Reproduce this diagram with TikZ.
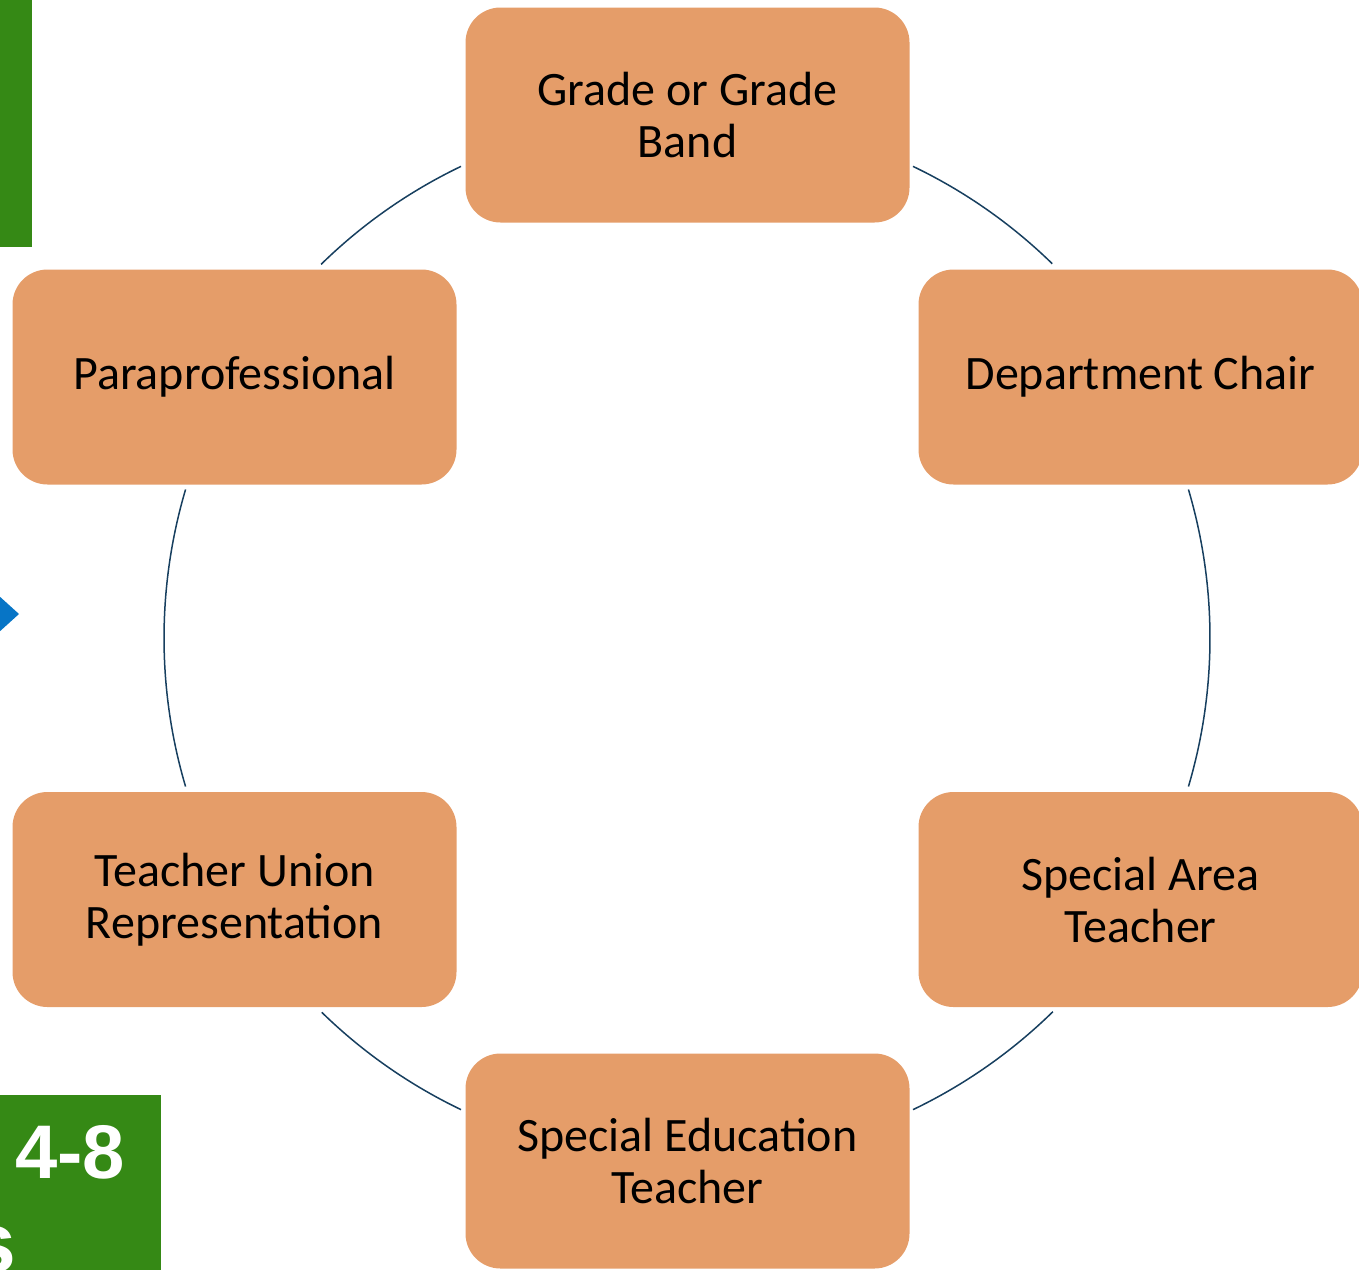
\documentclass[tikz,border=0pt]{standalone}
\usepackage{fontspec}
\setmainfont{Carlito}
\newfontfamily\headfont{Liberation Sans}
\begin{document}
\begin{tikzpicture}[x=1pt,y=1pt,
  role/.style={draw=none, fill=roleorange, rounded corners=35pt,
    minimum width=444pt, minimum height=215pt, inner sep=0pt,
    align=center, text width=430pt,
    font=\fontsize{48}{52}\selectfont,
    execute at begin node={\spaceskip=0.226em\relax}},
  ring/.style={draw=ringblue, line width=1.5pt}]
\definecolor{roleorange}{HTML}{E59D69}
\definecolor{ringblue}{HTML}{173F5F}
\definecolor{bargreen}{HTML}{358915}
\definecolor{markblue}{HTML}{0775C6}
\useasboundingbox (0,0) rectangle (1359,-1269);
\clip (0,0) rectangle (1359,-1269);

% side decorations
\fill[bargreen] (0,0) rectangle (32,-247);
\fill[markblue] (-2,-595) -- (19,-614) -- (-2,-633) -- cycle;
\fill[bargreen] (0,-1095) rectangle (161,-1275);
\node[anchor=base west, inner sep=0pt, text=white,
  font=\headfont\bfseries\fontsize{76}{80}\selectfont] (grades) at (15,-1178) {4-8};
\node[anchor=base east, inner sep=0pt, text=white,
  font=\headfont\bfseries\fontsize{86}{90}\selectfont] (tail) at (17,-1272) {s};

% ring centre
\coordinate (ctr) at (687,-638);

% connecting ring segments
\draw[ring] (ctr) ++(115.6:523) arc[start angle=115.6, end angle=134.4, radius=523];
\draw[ring] (ctr) ++(163.5:523) arc[start angle=163.5, end angle=196.5, radius=523];
\draw[ring] (ctr) ++(225.7:523) arc[start angle=225.7, end angle=244.4, radius=523];
\draw[ring] (ctr) ++(295.6:523) arc[start angle=295.6, end angle=314.4, radius=523];
\draw[ring] (ctr) ++(-16.5:523) arc[start angle=-16.5, end angle=16.5, radius=523];
\draw[ring] (ctr) ++(45.7:523) arc[start angle=45.7, end angle=64.4, radius=523];

% role boxes
\node[role] (grade) at (687.5,-115) {Grade or Grade\\Band};
\node[role] (dept) at (1140.5,-377) {Department Chair};
\node[role] (area) at (1140.5,-899.5) {Special Area\\Teacher};
\node[role] (sped) at (687.5,-1161) {Special Education\\Teacher};
\node[role] (union) at (234.5,-899.5) {Teacher Union\\Representation};
\node[role] (para) at (234.5,-377) {Paraprofessional};
\end{tikzpicture}
\end{document}
